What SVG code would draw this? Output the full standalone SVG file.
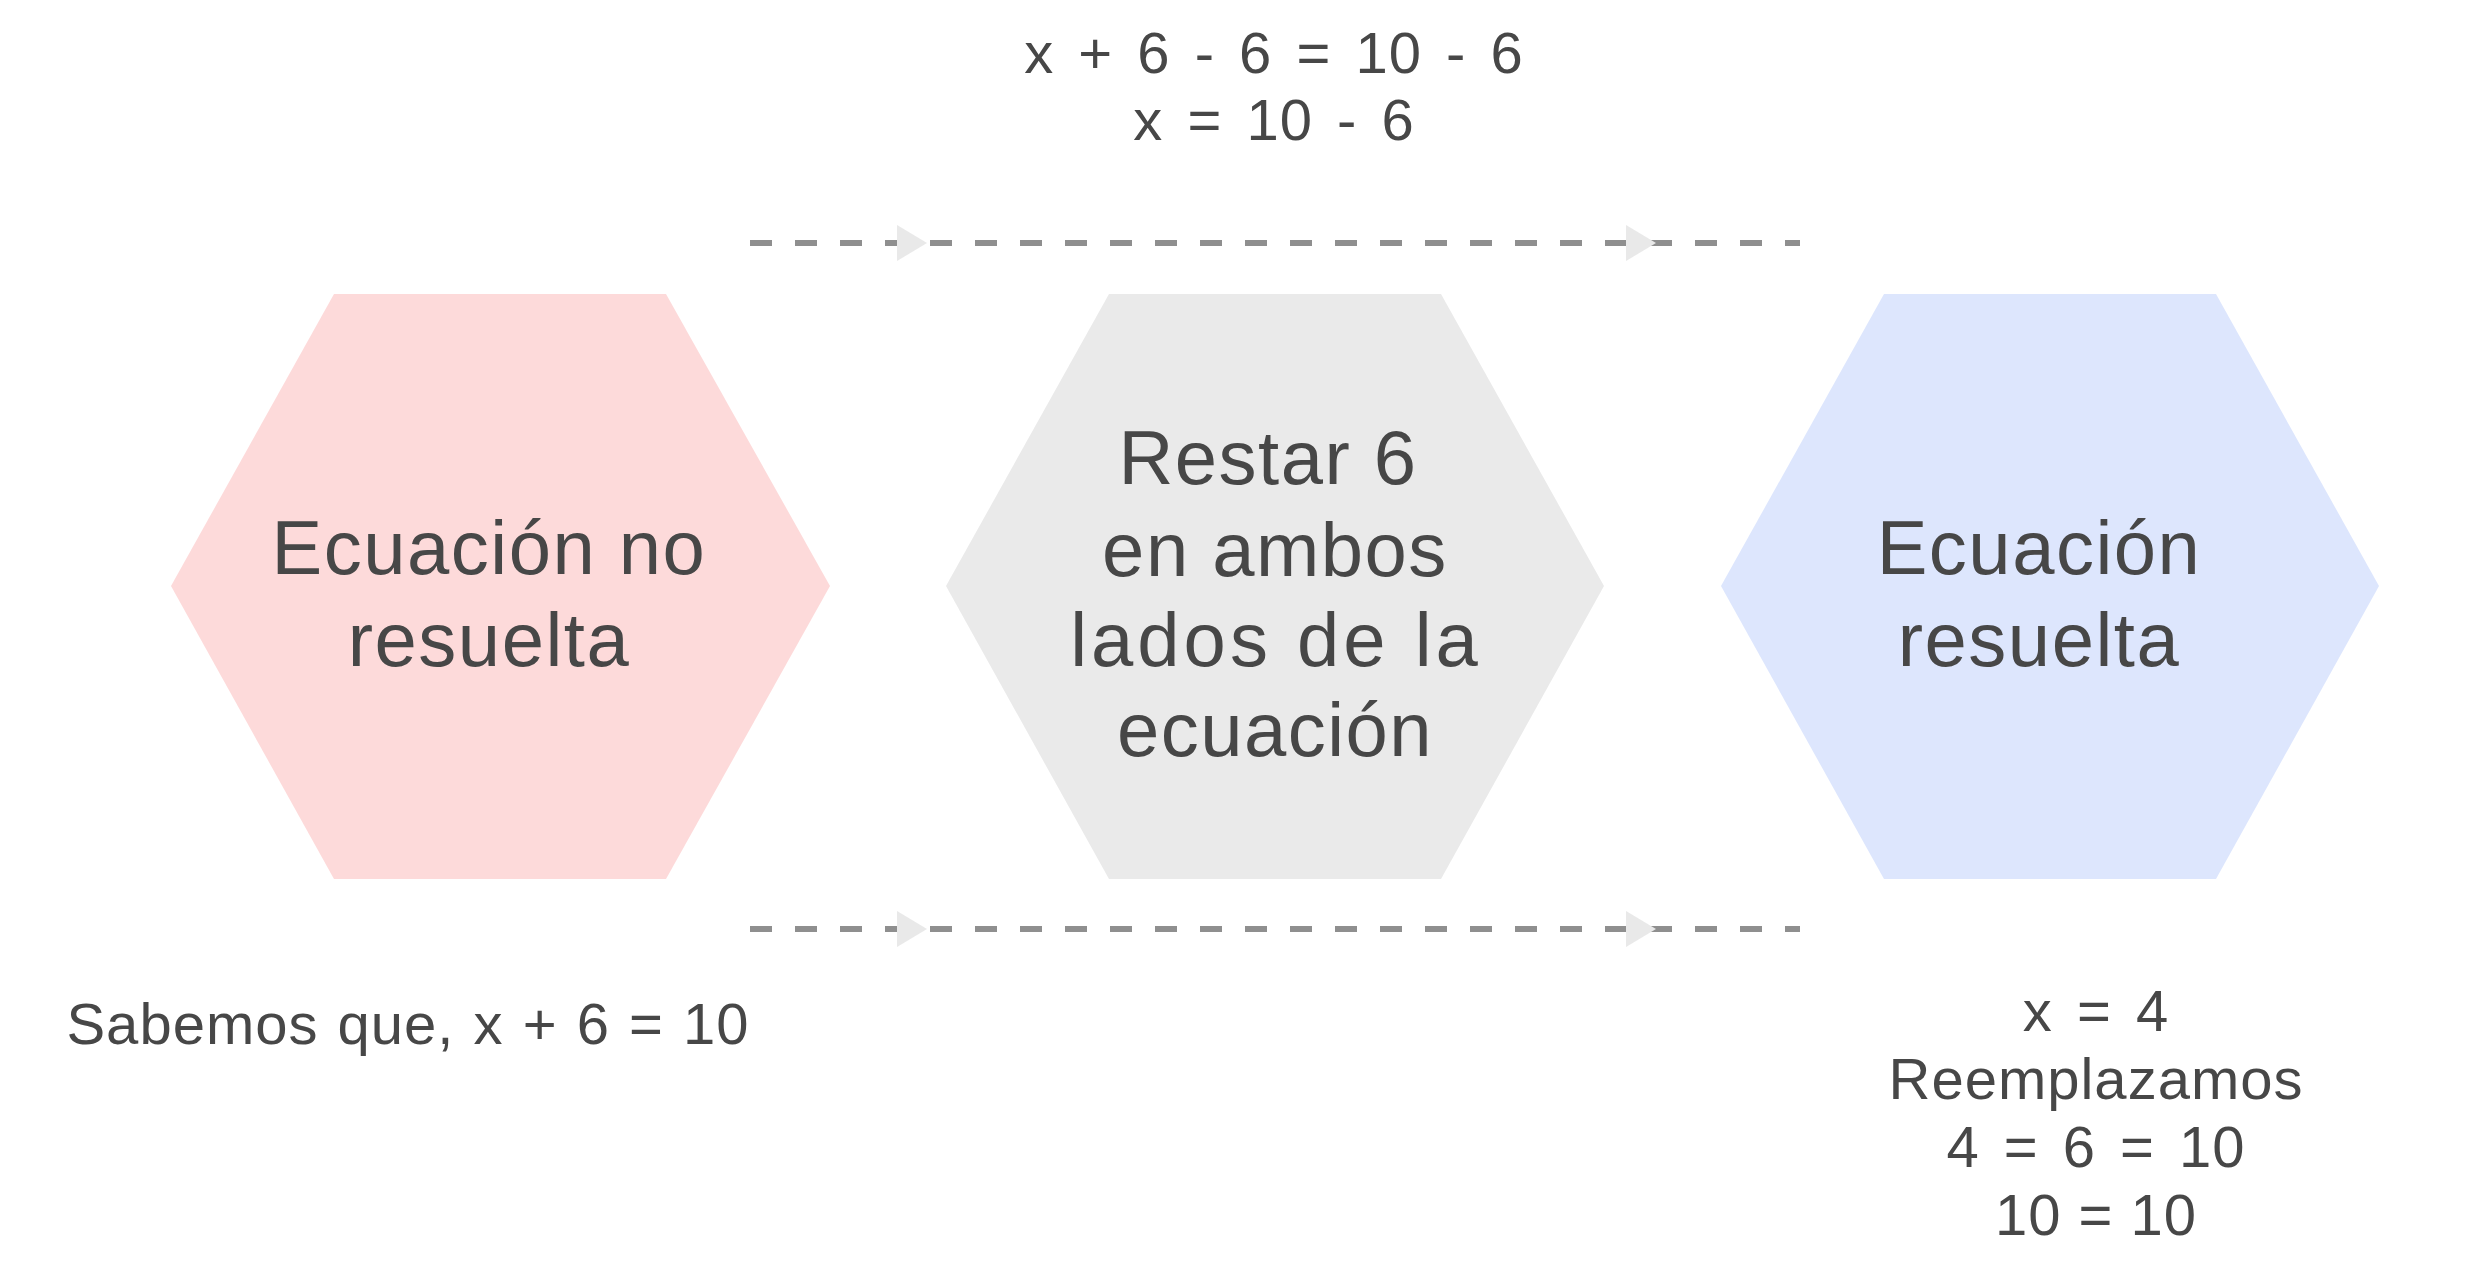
<svg xmlns="http://www.w3.org/2000/svg" width="2478" height="1288" viewBox="0 0 2478 1288">
<style>
.big{font-family:"Liberation Sans",Arial,sans-serif;font-size:76px;fill:#474747;text-anchor:middle;letter-spacing:1.5px}
.sm{font-family:"Liberation Sans",Arial,sans-serif;font-size:58px;fill:#474747;text-anchor:middle;letter-spacing:1px}
.ws{word-spacing:7px}
.edge{fill:none;stroke:#8f8f8f;stroke-width:6;stroke-dasharray:22 23}
</style>
<defs>
<marker id="ah" markerUnits="userSpaceOnUse" markerWidth="34" markerHeight="40" refX="32" refY="20" orient="auto">
<path d="M2 2 L32 20 L2 38 Z" fill="#e9e9e9"/>
</marker>
</defs>
<rect width="2478" height="1288" fill="#ffffff"/>
<g id="connectors">
<path class="edge" d="M750 243 L927 243 L1656 243 L1800 243" marker-mid="url(#ah)"/>
<path class="edge" d="M750 929 L927 929 L1656 929 L1800 929" marker-mid="url(#ah)"/>
</g>
<g id="node-no-resuelta">
<polygon points="334,294 666,294 830,586 666,879 334,879 171,586" fill="#fddada"/>
<text class="big" x="489" y="574">Ecuación no</text>
<text class="big" x="489" y="666">resuelta</text>
</g>
<g id="node-restar">
<polygon points="1109,294 1441,294 1604,586 1441,879 1109,879 946,586" fill="#eaeaea"/>
<text class="big" x="1268" y="484">Restar 6</text>
<text class="big" x="1275" y="576">en ambos</text>
<text class="big" x="1276" y="666" style="letter-spacing:4px">lados de la</text>
<text class="big" x="1275" y="756">ecuación</text>
</g>
<g id="node-resuelta">
<polygon points="1884,294 2216,294 2379,586 2216,879 1884,879 1721,586" fill="#dde6fd"/>
<text class="big" x="2039" y="574">Ecuación</text>
<text class="big" x="2039" y="666">resuelta</text>
</g>
<g id="label-top">
<text class="sm ws" x="1274" y="73">x + 6 - 6 = 10 - 6</text>
<text class="sm ws" x="1274" y="140">x = 10 - 6</text>
</g>
<g id="label-left">
<text class="sm" x="408" y="1044" style="word-spacing:2px">Sabemos que, x + 6 = 10</text>
</g>
<g id="label-right">
<text class="sm ws" x="2096" y="1031">x = 4</text>
<text class="sm" x="2096" y="1099">Reemplazamos</text>
<text class="sm ws" x="2096" y="1167">4 = 6 = 10</text>
<text class="sm" x="2096" y="1235">10 = 10</text>
</g>
</svg>
